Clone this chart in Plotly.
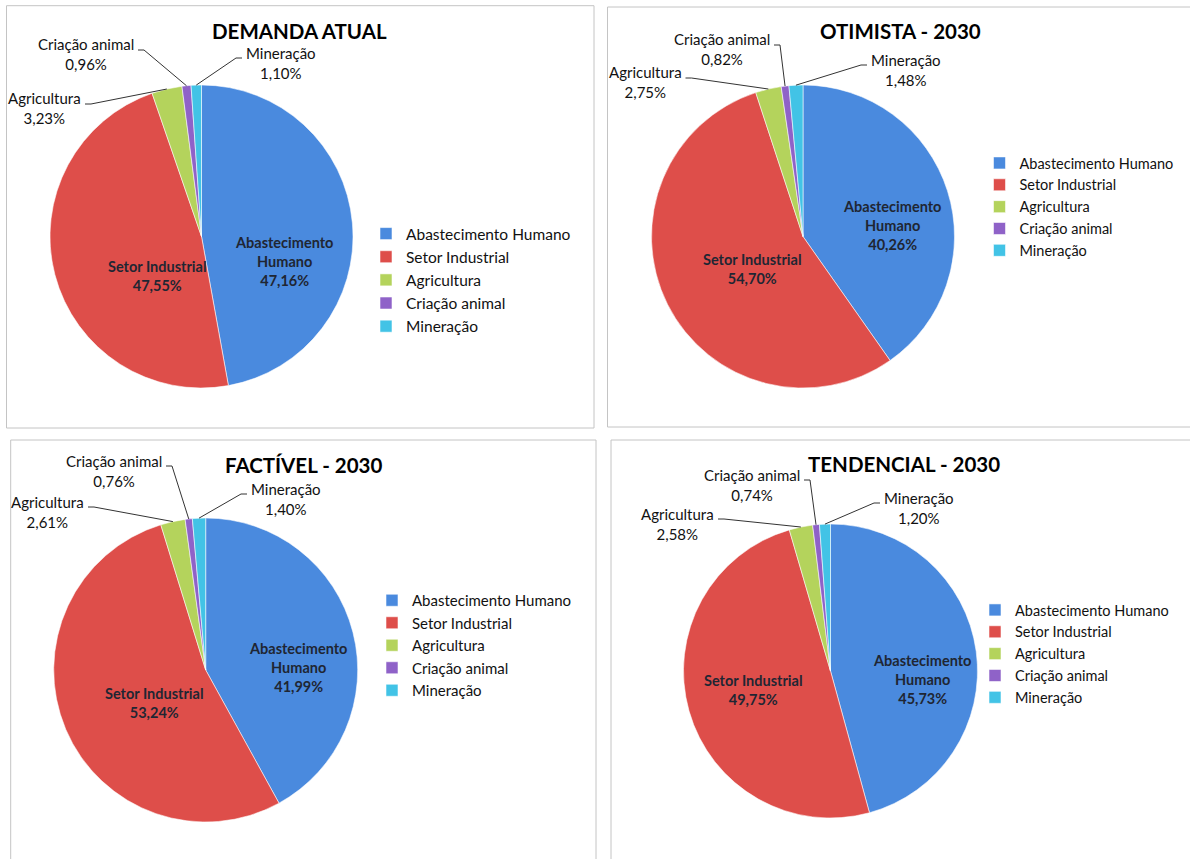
import math
import plotly.graph_objects as go

# ---------------- data ----------------
categories = ["Abastecimento Humano", "Setor Industrial", "Agricultura", "Criação animal", "Mineração"]
inside_names = ["Abastecimento<br>Humano", "Setor Industrial", "Agricultura", "Criação animal", "Mineração"]
titles = ["DEMANDA ATUAL", "OTIMISTA - 2030", "FACTÍVEL - 2030", "TENDENCIAL - 2030"]
demanda_atual = [47.16, 47.55, 3.23, 0.96, 1.10]
otimista_2030 = [40.26, 54.70, 2.75, 0.82, 1.48]
factivel_2030 = [41.99, 53.24, 2.61, 0.76, 1.40]
tendencial_2030 = [45.73, 49.75, 2.58, 0.74, 1.20]
series = [demanda_atual, otimista_2030, factivel_2030, tendencial_2030]

colors = ["#4a8ade", "#de4e4a", "#b4d35c", "#8f62c8", "#42c3e6"]
FONT = "Lato"

W, H = 1190, 859


def px(x):
    return x / W


def py(y):
    return 1 - y / H


def fmt(v):
    return f"{v:.2f}".replace(".", ",") + "%"


# layout per panel (pixel geometry)
panels = [
    dict(cx=201.5, cy=236.5, r=151.5, title=(299.5, 31), border=(6.5, 5.7, 594, 428),
         leg=(406, 233, 15.5),
         ins={0: (82.5, 24.5), 1: (-44.5, 39)},
         out={2: (83, 99, "right"), 3: (136, 45, "right"), 4: (244, 53, "left")}),
    dict(cx=803, cy=236.5, r=151.5, title=(900.5, 31), border=(607.5, 7, 1196, 427),
         leg=(1019.5, 163, 14.5),
         ins={0: (88.6, -11.5), 1: (-51, 32.5)},
         out={2: (683.5, 73, "right"), 3: (772, 40, "right"), 4: (869, 60, "left")}),
    dict(cx=205.7, cy=670, r=152, title=(303.5, 465), border=(10.7, 440, 596, 866),
         leg=(412, 600, 15),
         ins={0: (92.3, -3), 1: (-51.7, 33)},
         out={2: (86, 502, "right"), 3: (164, 461, "right"), 4: (249, 489, "left")}),
    dict(cx=830.5, cy=671, r=147, title=(903.5, 464), border=(611, 440, 1196, 866),
         leg=(1015, 610, 14.5),
         ins={0: (91.2, 8), 1: (-77, 18.5)},
         out={2: (716, 514, "right"), 3: (802, 475, "right"), 4: (882, 498, "left")}),
]

fig = go.Figure()
annotations = []
shapes = []
legend_layouts = {}

for k, (vals, p) in enumerate(zip(series, panels)):
    cx, cy, r = p["cx"], p["cy"], p["r"]
    legname = "legend" if k == 0 else f"legend{k + 1}"
    fig.add_trace(go.Pie(
        labels=[c + "\u200b" * k for c in categories], values=vals,
        sort=False, direction="clockwise", rotation=0,
        marker=dict(colors=colors, line=dict(color="rgba(255,255,255,0.55)", width=1)),
        textinfo="none",
        domain=dict(x=[px(cx - r), px(cx + r)], y=[py(cy + r), py(cy - r)]),
        legend=legname, legendgroup=f"g{k}", showlegend=True, hoverinfo="label+percent",
    ))

    # panel border
    bx0, by0, bx1, by1 = p["border"]
    shapes.append(dict(type="rect", xref="paper", yref="paper",
                       x0=px(bx0), x1=px(bx1), y0=py(by1), y1=py(by0),
                       line=dict(color="#c4c4c4", width=1), fillcolor="rgba(0,0,0,0)", layer="below"))

    # title
    tx, ty = p["title"]
    annotations.append(dict(text=f"<b>{titles[k]}</b>", x=px(tx), y=py(ty), xref="paper", yref="paper",
                            xanchor="center", yanchor="middle", showarrow=False,
                            font=dict(family=FONT, size=20.5, color="#000000")))

    # inside labels (big slices)
    for i, (dx, dy) in p["ins"].items():
        annotations.append(dict(text=f"<b>{inside_names[i]}<br>{fmt(vals[i])}</b>",
                                x=px(cx + dx), y=py(cy + dy), xref="paper", yref="paper",
                                xanchor="center", yanchor="middle", align="center", showarrow=False,
                                font=dict(family=FONT, size=14.5, color="#1f2633")))

    # outside labels with leader lines (leader ends at slice mid-angle on the rim)
    total = sum(vals)
    cum = 0.0
    starts = []
    for v in vals:
        starts.append(cum)
        cum += v
    for i, (ex, y1, side) in p["out"].items():
        frac_mid = (starts[i] + vals[i] / 2) / total
        th = 2 * math.pi * frac_mid
        rx_, ry_ = cx + r * math.sin(th), cy - r * math.cos(th)
        annotations.append(dict(text=f"{categories[i]}<br>{fmt(vals[i])}",
                                x=px(ex), y=py(y1 + 9.5), xref="paper", yref="paper",
                                xanchor=side, yanchor="middle", align="center", showarrow=False,
                                font=dict(family=FONT, size=15, color="#111111")))
        ay = y1 + 5
        if side == "right":
            ax0, ax1 = ex + 2, ex + 8
        else:
            ax0, ax1 = ex - 2, ex - 8
        path = f"M {px(ax0)},{py(ay)} L {px(ax1)},{py(ay)} L {px(rx_)},{py(ry_)}"
        shapes.append(dict(type="path", xref="paper", yref="paper", path=path,
                           line=dict(color="#333333", width=1)))

    # legend
    lx, ly, lsize = p["leg"]
    legend_layouts[legname] = dict(
        x=px(lx - 40), y=py(ly - 16), xanchor="left", yanchor="top",
        font=dict(family=FONT, size=lsize, color="#111111"),
        bgcolor="rgba(0,0,0,0)", borderwidth=0, orientation="v",
    )

fig.update_layout(
    width=W, height=H, autosize=False,
    margin=dict(l=0, r=0, t=0, b=0),
    paper_bgcolor="white", plot_bgcolor="white",
    annotations=annotations, shapes=shapes,
    **legend_layouts,
)

fig.write_html("out.html", config={"displayModeBar": False},
               post_script="document.body.style.margin='0px';")
